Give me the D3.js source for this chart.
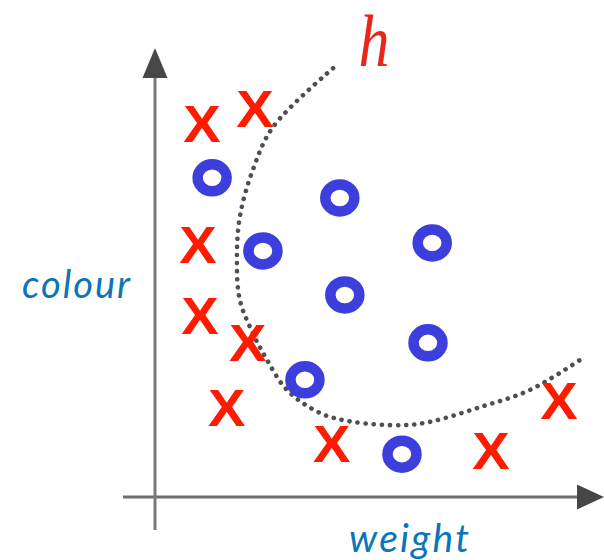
<!DOCTYPE html>
<html>
<head>
<meta charset="utf-8">
<script src="https://cdn.jsdelivr.net/npm/d3@7"></script>
<style>
  html, body { margin: 0; padding: 0; background: #fff; }
  svg { display: block; }
</style>
</head>
<body>
<svg id="chart" width="604" height="560"></svg>
<script>
// Class "x" samples (weight, colour)
const crossWeight = [1.12, 2.38, 1.02, 1.07, 2.21, 1.71, 4.21, 8.00, 9.62];
const crossColour = [8.90, 9.24, 6.02, 4.33, 3.67, 2.12, 1.26, 1.10, 2.29];

// Class "o" samples (weight, colour)
const ringWeight = [1.36, 4.40, 2.57, 6.60, 4.52, 6.50, 3.57, 5.88];
const ringColour = [7.60, 7.12, 5.86, 6.05, 4.81, 3.67, 2.79, 1.02];

// Decision boundary h
const boundaryWeight = [4.24, 2.81, 2.33, 2.02, 1.95, 2.02, 2.33, 2.67, 3.14, 3.93, 4.71, 5.90, 6.55, 7.74, 8.93, 10.19];
const boundaryColour = [10.21, 8.81, 7.79, 6.67, 5.64, 4.69, 3.90, 3.26, 2.55, 2.00, 1.79, 1.71, 1.79, 2.14, 2.55, 3.31];

const axisLabels = { x: "weight", y: "colour", boundary: "h" };

const svg = d3.select("#chart");

const x = d3.scaleLinear().domain([0, 10]).range([155, 575]);
const y = d3.scaleLinear().domain([0, 10]).range([497, 77]);

const red = "#ff1a00";
const blue = "#3d3fdc";
const labelBlue = "#0b74ba";

// Axes with arrowheads
const axisG = svg.append("g");
const [x0] = x.range();
const [y0] = y.range();

axisG.append("line")
  .attr("x1", x0 - 32).attr("x2", 578)
  .attr("y1", y0).attr("y2", y0)
  .attr("stroke", "#6e6e6e").attr("stroke-width", 3);
axisG.append("path")
  .attr("d", `M604,${y0} L577,${y0 - 12.5} L577,${y0 + 12.5} Z`)
  .attr("fill", "#474747");

axisG.append("line")
  .attr("x1", x0).attr("x2", x0)
  .attr("y1", y0 + 33).attr("y2", 77)
  .attr("stroke", "#7a7a7a").attr("stroke-width", 3);
axisG.append("path")
  .attr("d", `M${x0},48 L${x0 - 12.5},78 L${x0 + 12.5},78 Z`)
  .attr("fill", "#474747");

// Dotted boundary curve
const boundary = d3.zip(boundaryWeight, boundaryColour);
const line = d3.line()
  .x(d => x(d[0]))
  .y(d => y(d[1]))
  .curve(d3.curveCatmullRom.alpha(0.5));

svg.append("path")
  .attr("d", line(boundary))
  .attr("fill", "none")
  .attr("stroke", "#4f4f4f")
  .attr("stroke-width", 4.6)
  .attr("stroke-linecap", "round")
  .attr("stroke-dasharray", "0.1 8");

// Ring markers
svg.append("g").selectAll("ellipse")
  .data(d3.zip(ringWeight, ringColour))
  .join("ellipse")
  .attr("cx", d => x(d[0]))
  .attr("cy", d => y(d[1]))
  .attr("rx", 14.5)
  .attr("ry", 13.5)
  .attr("fill", "none")
  .attr("stroke", blue)
  .attr("stroke-width", 10.5);

// Cross markers
svg.append("g").selectAll("text")
  .data(d3.zip(crossWeight, crossColour))
  .join("text")
  .attr("transform", d => `translate(${x(d[0])},${y(d[1])}) scale(1.1,1)`)
  .attr("text-anchor", "middle")
  .attr("dy", "0.36em")
  .attr("font-family", "Liberation Sans, Arial, sans-serif")
  .attr("font-weight", "bold")
  .attr("font-size", 51)
  .attr("fill", red)
  .text("X");

// Axis labels
svg.append("text")
  .attr("x", 409).attr("y", 552)
  .attr("text-anchor", "middle")
  .attr("font-family", "Lato, sans-serif")
  .attr("font-style", "italic")
  .attr("font-size", 39)
  .attr("textLength", 120)
  .attr("fill", labelBlue)
  .text(axisLabels.x);

svg.append("text")
  .attr("x", 76).attr("y", 298)
  .attr("text-anchor", "middle")
  .attr("font-family", "Lato, sans-serif")
  .attr("font-style", "italic")
  .attr("font-size", 38)
  .attr("textLength", 108)
  .attr("fill", labelBlue)
  .text(axisLabels.y);

// Boundary label
svg.append("text")
  .attr("transform", "translate(374,66) scale(0.84,1)")
  .attr("text-anchor", "middle")
  .attr("font-family", "Liberation Serif, Times New Roman, serif")
  .attr("font-style", "italic")
  .attr("font-size", 74)
  .attr("fill", "#e8271a")
  .text(axisLabels.boundary);
</script>
</body>
</html>
